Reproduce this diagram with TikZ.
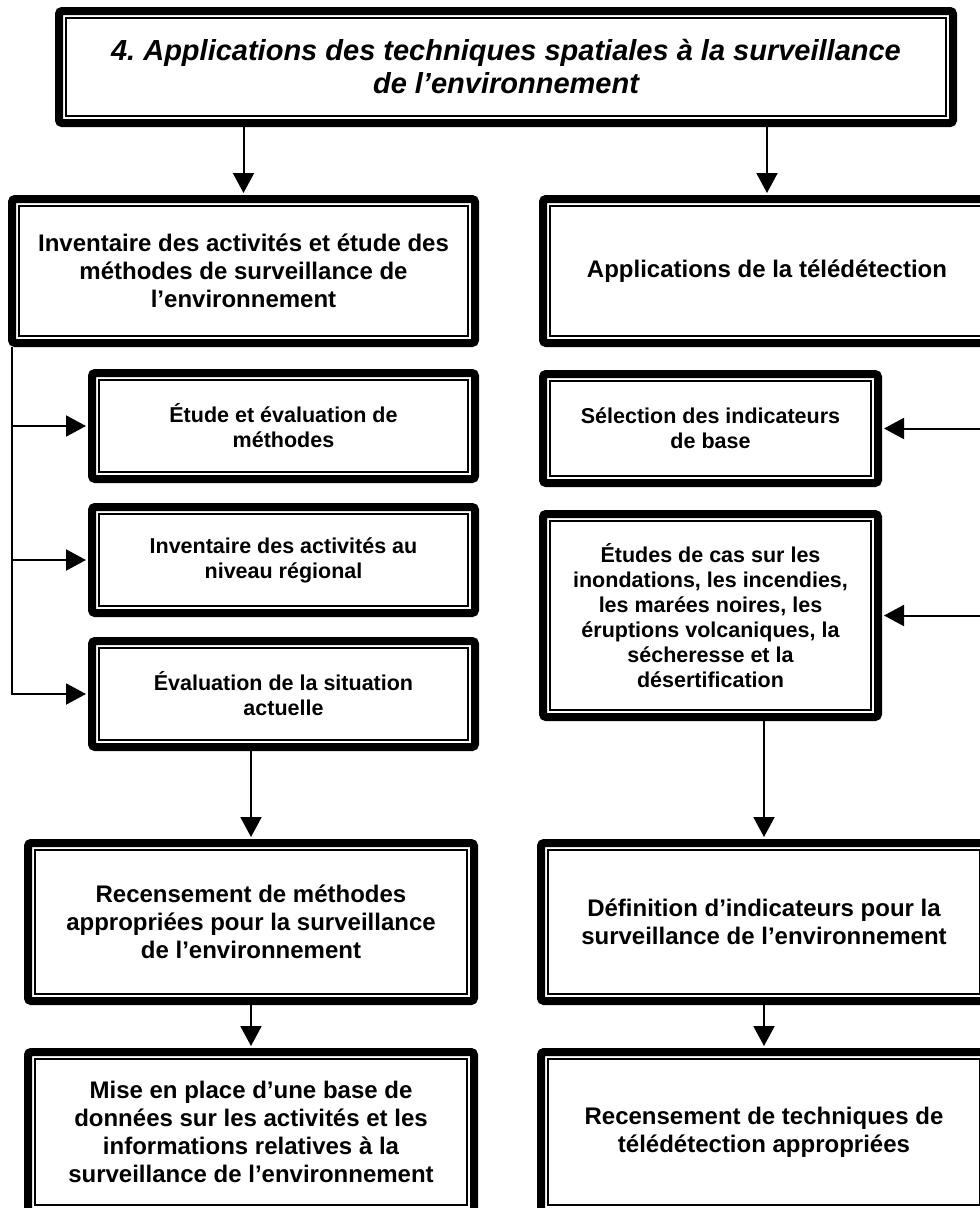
\documentclass[tikz,border=0pt]{standalone}
\usepackage{fontspec}
\setmainfont{Liberation Sans}
\usetikzlibrary{arrows.meta,positioning}
\frenchspacing

\newcommand{\bigtxt}{\fontsize{24}{28}\selectfont\bfseries}
\newcommand{\smalltxt}{\fontsize{21.5}{25}\selectfont\bfseries}
\newcommand{\titletxt}{\fontsize{29}{33}\selectfont\bfseries\itshape}

\begin{document}
\begin{tikzpicture}[
  x=1pt, y=-1pt,
  node distance=20pt,
  >={Triangle[length=20pt, width=21pt]},
  box/.style={
    draw, line width=1.4pt,
    align=center,
    inner sep=0pt, outer sep=11pt,
    font=\bigtxt
  },
  smallbox/.style={
    box, font=\smalltxt,
    minimum width=369pt, minimum height=92pt
  },
  frame/.style={line width=8pt, rounded corners=3pt},
  edge/.style={->, line width=2pt, shorten >=2pt}
]
\useasboundingbox (0,0) rectangle (980,1208);
\clip (0,0) rectangle (980,1208);

% Title
\node[box, font=\titletxt, minimum width=880pt, minimum height=98pt] (title) at (506,67)
{4. Applications des techniques spatiales à la surveillance\\de l’environnement};

% Left column
\node[box, minimum width=449pt, minimum height=130pt] (inv) at (243.5,271)
{Inventaire des activités et étude des\\méthodes de surveillance de\\l’environnement};

\node[smallbox, below=22pt of inv, xshift=40pt] (etude)
{Étude et évaluation de\\méthodes};
\node[smallbox, below=of etude] (invreg)
{Inventaire des activités au\\niveau régional};
\node[smallbox, below=of invreg] (evalsit)
{Évaluation de la situation\\actuelle};

\node[box, minimum width=432pt, minimum height=144pt] (recens) at (251,922)
{Recensement de méthodes\\appropriées pour la surveillance\\de l’environnement};
\node[box, minimum width=432pt, minimum height=146pt] (base) at (251,1132)
{Mise en place d’une base de\\données sur les activités et les\\informations relatives à la\\surveillance de l’environnement};

% Right column
\node[box, minimum width=434pt, minimum height=130pt] (tele) at (767,271)
{Applications de la télédétection};

\node[smallbox, minimum width=321pt, minimum height=95pt] (selind) at (710.5,428.5)
{Sélection des indicateurs\\de base};
\node[smallbox, minimum width=321pt, minimum height=189pt, below=23pt of selind] (cas)
{Études de cas sur les\\inondations, les incendies,\\les marées noires, les\\éruptions volcaniques, la\\sécheresse et la\\désertification};

\node[box, minimum width=432pt, minimum height=144pt] (defin) at (764,922)
{Définition d’indicateurs pour la\\surveillance de l’environnement};
\node[box, minimum width=432pt, minimum height=146pt] (techn) at (764,1132)
{Recensement de techniques de\\télédétection appropriées};

% Thick outer frames
\foreach \n in {title,inv,etude,invreg,evalsit,recens,base,tele,selind,cas,defin,techn}
  \draw[frame] ([shift={(4pt,-4pt)}]\n.north west) rectangle ([shift={(-4pt,4pt)}]\n.south east);

% Edges
\draw[edge] (title.south -| inv.north) -- (inv.north);
\draw[edge] (title.south -| tele.north) -- (tele.north);

\coordinate (trunk) at ([xshift=4pt]inv.south west);
\draw[edge] (trunk) |- (evalsit.west);
\draw[edge] (trunk |- etude.west) -- (etude.west);
\draw[edge] (trunk |- invreg.west) -- (invreg.west);

\coordinate (feedA) at (selind.east -| tele.east);
\coordinate (feedB) at (cas.east -| tele.east);
\draw[edge] (feedA) -- (selind.east);
\draw[edge] (feedB) -- (cas.east);

\draw[edge] (evalsit.south -| recens.north) -- (recens.north);
\draw[edge] (recens) -- (base);
\draw[edge] (cas.south -| defin.north) -- (defin.north);
\draw[edge] (defin) -- (techn);

\end{tikzpicture}
\end{document}
